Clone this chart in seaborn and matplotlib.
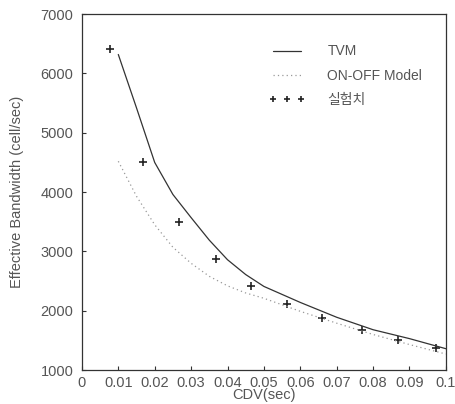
import numpy as np
import pandas as pd
import matplotlib
matplotlib.use('Agg')
import matplotlib.pyplot as plt
import seaborn as sns
from matplotlib.lines import Line2D

# curvas del modelo
cdv_modelo = [0.01, 0.015, 0.02, 0.025, 0.03, 0.035, 0.04, 0.045, 0.05, 0.06, 0.07, 0.08, 0.09, 0.10]
twm = [6320, 5420, 4500, 3960, 3570, 3190, 2860, 2610, 2410, 2140, 1890, 1680, 1530, 1360]
onoff = [4520, 3930, 3450, 3070, 2800, 2580, 2420, 2300, 2210, 1990, 1790, 1600, 1430, 1270]

# valores medidos
cdv_medido = [0.0077, 0.0168, 0.0266, 0.0368, 0.0464, 0.0563, 0.0659, 0.0769, 0.0868, 0.0973]
medido = [6410, 4500, 3500, 2870, 2420, 2110, 1870, 1670, 1510, 1370]

sns.set_style('ticks')
plt.rcParams['font.family'] = ['Liberation Sans', 'Noto Sans CJK KR', 'DejaVu Sans']

gris = '#555555'
linea = '#333333'
punteado = '#999999'

df_modelo = pd.DataFrame({'cdv': cdv_modelo, 'TVM': twm, 'ON-OFF Model': onoff})
df_medido = pd.DataFrame({'cdv': cdv_medido, 'bw': medido})

fig = plt.figure(figsize=(4.55, 4.04), dpi=100)
ax = fig.add_axes([0.180, 0.084, 0.800, 0.881])

sns.lineplot(data=df_modelo, x='cdv', y='TVM', ax=ax, color=linea, linewidth=0.9)
sns.lineplot(data=df_modelo, x='cdv', y='ON-OFF Model', ax=ax, color=punteado,
             linewidth=0.9, linestyle=(0, (1, 2.5)))
sns.scatterplot(data=df_medido, x='cdv', y='bw', ax=ax, marker='+', s=28,
                color='#222222', linewidth=1.2)

ax.set_xlim(0, 0.1)
ax.set_ylim(1000, 7000)
ax.set_xticks(np.arange(0, 0.101, 0.01))
ax.set_xticklabels(['0', '0.01', '0.02', '0.03', '0.04', '0.05', '0.06', '0.07', '0.08', '0.09', '0.1'])
ax.set_yticks(range(1000, 7001, 1000))
ax.tick_params(direction='in', length=3, width=0.8, colors=linea, labelcolor=gris, labelsize=10.5, pad=4)
ax.tick_params(axis='y', pad=6)
for lado in ax.spines.values():
    lado.set_color(linea)
    lado.set_linewidth(0.9)

ax.set_xlabel('CDV(sec)', color=gris, fontsize=10.5, labelpad=-1)
ax.set_ylabel('Effective Bandwidth (cell/sec)', color=gris, fontsize=10.5, labelpad=12)

manijas = [
    Line2D([], [], color=linea, linewidth=0.9),
    Line2D([], [], color=punteado, linewidth=0.9, linestyle=(0, (1, 2.5))),
    Line2D([], [], color='#222222', linestyle='none', marker='+', markersize=4.5, markeredgewidth=1.2),
]
ley = ax.legend(manijas, ['TVM', 'ON-OFF Model', '실험치'], loc='upper left',
                bbox_to_anchor=(0.48, 0.95), frameon=False, numpoints=3,
                handlelength=2.6, handletextpad=1.6, labelspacing=0.75, fontsize=10)
for t in ley.get_texts():
    t.set_color(gris)

fig.savefig('out.png', dpi=100)
